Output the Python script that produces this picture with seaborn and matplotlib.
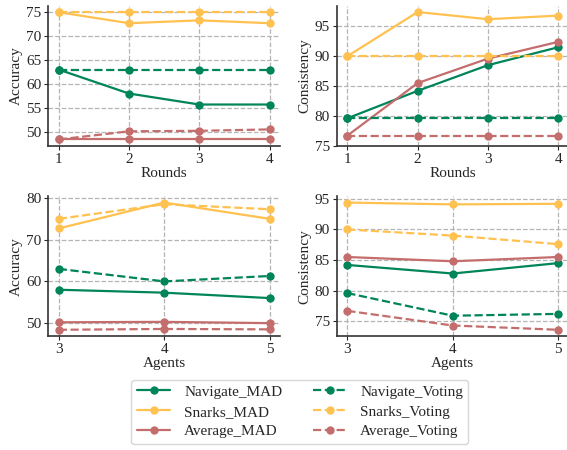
import matplotlib
matplotlib.use("Agg")
import matplotlib.pyplot as plt
from matplotlib.ticker import MultipleLocator
import seaborn as sns
import pandas as pd

# x values
rounds = [1, 2, 3, 4]
agents = [3, 4, 5]

# Accuracy vs rounds
acc_rounds = {
    "Navigate_MAD": [63.0, 58.0, 55.7, 55.7],
    "Snarks_MAD": [75.0, 72.7, 73.3, 72.7],
    "Average_MAD": [48.4, 48.4, 48.4, 48.4],
    "Navigate_Voting": [63.0, 63.0, 63.0, 63.0],
    "Snarks_Voting": [75.0, 75.0, 75.0, 75.0],
    "Average_Voting": [48.4, 50.1, 50.2, 50.5],
}
# Consistency vs rounds
cons_rounds = {
    "Navigate_MAD": [79.6, 84.2, 88.5, 91.5],
    "Snarks_MAD": [90.0, 97.4, 96.2, 96.8],
    "Average_MAD": [76.7, 85.5, 89.6, 92.4],
    "Navigate_Voting": [79.6, 79.6, 79.6, 79.6],
    "Snarks_Voting": [90.0, 90.0, 90.0, 90.0],
    "Average_Voting": [76.7, 76.7, 76.7, 76.7],
}
# Accuracy vs agents
acc_agents = {
    "Navigate_MAD": [58.0, 57.3, 56.0],
    "Snarks_MAD": [72.7, 78.9, 75.0],
    "Average_MAD": [50.2, 50.3, 50.0],
    "Navigate_Voting": [63.0, 60.0, 61.3],
    "Snarks_Voting": [75.0, 78.5, 77.3],
    "Average_Voting": [48.4, 48.6, 48.5],
}
# Consistency vs agents
cons_agents = {
    "Navigate_MAD": [84.2, 82.8, 84.5],
    "Snarks_MAD": [94.4, 94.1, 94.2],
    "Average_MAD": [85.5, 84.8, 85.5],
    "Navigate_Voting": [79.6, 75.9, 76.2],
    "Snarks_Voting": [90.0, 89.0, 87.6],
    "Average_Voting": [76.7, 74.3, 73.6],
}

colors = {"Navigate": "#00845A", "Snarks": "#FFC14F", "Average": "#C46D6D"}

sns.set_style("ticks")
plt.rcParams["font.family"] = ["Liberation Serif", "DejaVu Serif"]
plt.rcParams["font.size"] = 11

fig = plt.figure(figsize=(5.67, 4.5), dpi=100)
axw, axh = 0.409, 0.311
positions = [
    [0.085, 0.676, axw, axh],
    [0.594, 0.676, axw, axh],
    [0.085, 0.253, axw, axh],
    [0.594, 0.253, axw, axh],
]
panels = [
    (rounds, acc_rounds, "Rounds", "Accuracy", 5),
    (rounds, cons_rounds, "Rounds", "Consistency", 5),
    (agents, acc_agents, "Agents", "Accuracy", 10),
    (agents, cons_agents, "Agents", "Consistency", 5),
]

handles, labels = None, None
for pos, (xs, data, xlabel, ylabel, ystep) in zip(positions, panels):
    ax = fig.add_axes(pos)
    for name, vals in data.items():
        dataset, method = name.split("_")
        df = pd.DataFrame({"x": xs, "y": vals})
        sns.lineplot(data=df, x="x", y="y", ax=ax, color=colors[dataset],
                     linestyle="-" if method == "MAD" else "--",
                     marker="o", markersize=6, markeredgewidth=0,
                     linewidth=1.6, label=name, legend=False)
    ax.set_xticks(xs)
    ax.yaxis.set_major_locator(MultipleLocator(ystep))
    ax.set_xlabel(xlabel, labelpad=1)
    ax.set_ylabel(ylabel, labelpad=2)
    ax.grid(True, linestyle="--", color="#b5b5b5", linewidth=0.9)
    ax.tick_params(length=3, pad=2, labelsize=11)
    for s in ["left", "bottom"]:
        ax.spines[s].set_linewidth(1.2)
        ax.spines[s].set_color("#333333")
    sns.despine(ax=ax)
    if ylabel == "Consistency" and xlabel == "Rounds":
        ax.set_ylim(75, None)
    if handles is None:
        handles, labels = ax.get_legend_handles_labels()

fig.legend(handles, labels, loc="upper center", bbox_to_anchor=(0.529, 0.173),
           ncol=2, frameon=True, fontsize=11, columnspacing=2.0,
           handlelength=2.2, handletextpad=0.9, labelspacing=0.4, borderpad=0.35)

fig.savefig("out.png", dpi=100)
